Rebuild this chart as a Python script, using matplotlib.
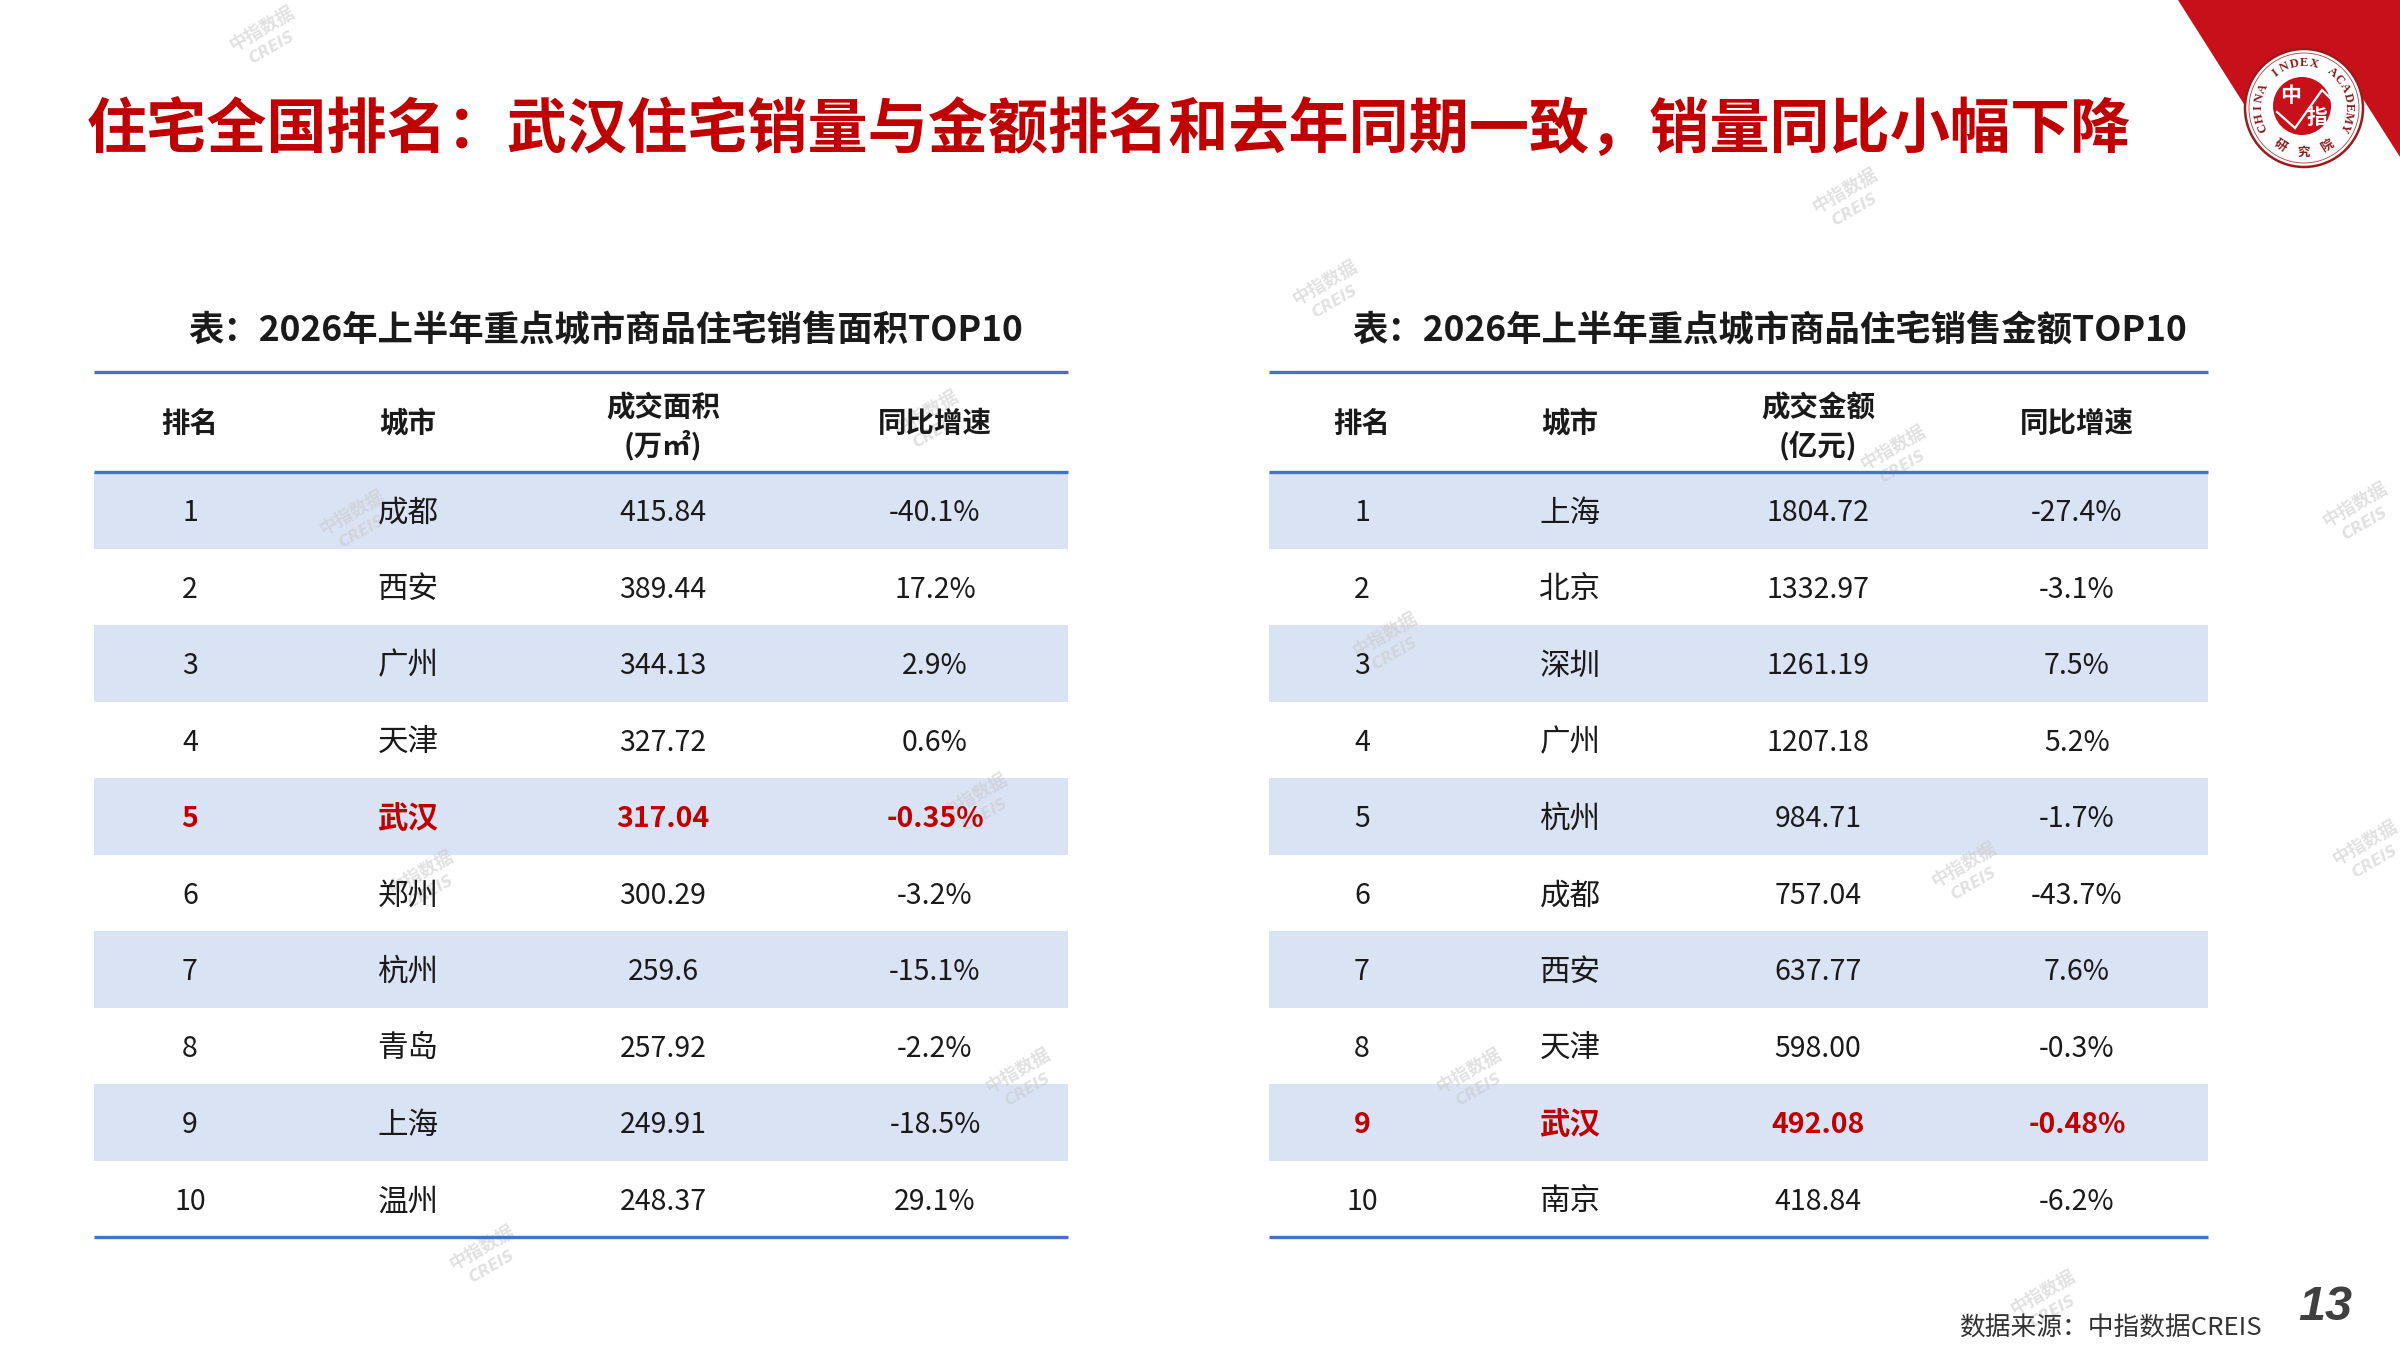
import numpy as np
import matplotlib
matplotlib.use("Agg")
import matplotlib.pyplot as plt
from matplotlib.patches import Rectangle, Circle, Polygon

plt.rcParams['font.family'] = ['Noto Sans CJK SC', 'DejaVu Sans']

# ---------------- data ----------------
title = "住宅全国排名：武汉住宅销量与金额排名和去年同期一致，销量同比小幅下降"

area_title = "表：2026年上半年重点城市商品住宅销售面积TOP10"
area_headers = ["排名", "城市", "成交面积\n(万㎡)", "同比增速"]
area_rank = [1, 2, 3, 4, 5, 6, 7, 8, 9, 10]
area_city = ["成都", "西安", "广州", "天津", "武汉", "郑州", "杭州", "青岛", "上海", "温州"]
area_value = ["415.84", "389.44", "344.13", "327.72", "317.04", "300.29", "259.6", "257.92", "249.91", "248.37"]
area_yoy = ["-40.1%", "17.2%", "2.9%", "0.6%", "-0.35%", "-3.2%", "-15.1%", "-2.2%", "-18.5%", "29.1%"]

amt_title = "表：2026年上半年重点城市商品住宅销售金额TOP10"
amt_headers = ["排名", "城市", "成交金额\n(亿元)", "同比增速"]
amt_rank = [1, 2, 3, 4, 5, 6, 7, 8, 9, 10]
amt_city = ["上海", "北京", "深圳", "广州", "杭州", "成都", "西安", "天津", "武汉", "南京"]
amt_value = ["1804.72", "1332.97", "1261.19", "1207.18", "984.71", "757.04", "637.77", "598.00", "492.08", "418.84"]
amt_yoy = ["-27.4%", "-3.1%", "7.5%", "5.2%", "-1.7%", "-43.7%", "7.6%", "-0.3%", "-0.48%", "-6.2%"]

highlight_city = "武汉"
source = "数据来源：中指数据CREIS"
page_no = "13"

# ---------------- style ----------------
RED = "#C00000"
BLUE = "#4472C4"
SHADE = "#DAE3F3"
TXT = "#1a1a1a"

W, H = 2400, 1350
fig = plt.figure(figsize=(24, 13.5), dpi=100)
ax = fig.add_axes([0, 0, 1, 1])
ax.set_xlim(0, W)
ax.set_ylim(H, 0)
ax.axis("off")

# title
ax.text(87, 130, title, fontsize=43.3, fontweight="heavy", color=RED,
        ha="left", va="center")

# watermarks
wm = [(262, 36), (1845, 198), (1325, 290), (352, 520), (926, 420), (1893, 455),
      (2355, 512), (1385, 642), (975, 803), (421, 880), (1964, 872), (1469, 1078),
      (1018, 1078), (482, 1255), (2043, 1300), (2365, 850)]
for (x, y) in wm:
    ax.text(x, y - 8, "中指数据", fontsize=13, color="#c9c9c9", alpha=0.55,
            rotation=30, ha="center", va="center", fontweight="bold")
    ax.text(x + 10, y + 12, "CREIS", fontsize=11, color="#c9c9c9", alpha=0.55,
            rotation=30, ha="center", va="center", style="italic", fontweight="bold",
            family=["DejaVu Sans"])


def draw_table(x0, x1, col_x, ttl, ttl_x, headers, ranks, cities, values, yoys):
    ax.text(ttl_x, 331, ttl, fontsize=25.5, fontweight="heavy", color=TXT,
            ha="center", va="center")
    top_line, head_bot = 372, 472
    row_h = 76.5
    n = len(ranks)
    for i in range(n):
        y = head_bot + i * row_h
        if i % 2 == 0:
            ax.add_patch(Rectangle((x0, y), x1 - x0, row_h, facecolor=SHADE,
                                   edgecolor="none", zorder=1))
    bottom = head_bot + n * row_h
    for yy in (top_line, head_bot, bottom):
        ax.plot([x0, x1], [yy, yy], color=BLUE, lw=2.4, zorder=3,
                solid_capstyle="butt")
    for cx, h in zip(col_x, headers):
        if "\n" in h:
            l1, l2 = h.split("\n")
            ax.text(cx, 408, l1, fontsize=20.5, fontweight="heavy", color=TXT,
                    ha="center", va="center", zorder=4)
            ax.text(cx, 445, l2, fontsize=20.5, fontweight="heavy", color=TXT,
                    ha="center", va="center", zorder=4)
        else:
            ax.text(cx, 424, h, fontsize=20.5, fontweight="heavy", color=TXT,
                    ha="center", va="center", zorder=4)
    for i in range(n):
        yc = head_bot + i * row_h + row_h / 2 + 3
        hl = cities[i] == highlight_city
        col = RED if hl else TXT
        fw = "bold" if hl else "normal"
        cells = [str(ranks[i]), cities[i], values[i], yoys[i]]
        sizes = [20.5, 22, 20.5, 20.5]
        for cx, c, fs in zip(col_x, cells, sizes):
            ax.text(cx, yc, c, fontsize=fs, color=col, fontweight=fw,
                    ha="center", va="center", zorder=4)


draw_table(94, 1068, [190, 408, 663, 935], area_title, 606, area_headers,
           area_rank, area_city, area_value, area_yoy)
draw_table(1269, 2208, [1362, 1570, 1818, 2077], amt_title, 1770, amt_headers,
           amt_rank, amt_city, amt_value, amt_yoy)

# source + page
ax.text(2262, 1329, source, fontsize=18.5, color="#333333", ha="right", va="center")
ax.text(2352, 1307, page_no, fontsize=35, color="#404040", ha="right", va="center",
        fontweight="bold", style="italic", family=["Liberation Sans", "DejaVu Sans"])

# ---------------- logo ----------------
LOGO_RED = "#C8101A"
ax.add_patch(Polygon([(2178, 0), (2400, 0), (2400, 157), (2351, 80), (2304, 108),
                      (2254, 120)], closed=True, facecolor=LOGO_RED,
                     edgecolor="none", zorder=5))
cx, cy = 2304, 108
ax.add_patch(Circle((cx, cy), 59, facecolor="white", edgecolor="#9b1b1b",
                    lw=1.8, zorder=6))
ax.add_patch(Circle((cx, cy), 55, facecolor="none", edgecolor="#b04040",
                    lw=0.6, zorder=6))
ax.add_patch(Circle((cx - 2, cy - 2), 29, facecolor=LOGO_RED, edgecolor="none",
                    zorder=7))
ax.plot([2277, 2295, 2322, 2332], [112, 128, 90, 100], color="white", lw=1.6,
        zorder=8, solid_joinstyle="miter")
ax.text(2291, 96, "中", fontsize=15, color="white", fontweight="bold",
        ha="center", va="center", zorder=9)
ax.text(2317, 118, "指", fontsize=15, color="white", fontweight="bold",
        ha="center", va="center", zorder=9)
ring = "CHINA INDEX ACADEMY"
angs = np.linspace(205, -25, len(ring))
for ch, a in zip(ring, angs):
    r = 45
    x = cx + r * np.cos(np.radians(a))
    y = cy - r * np.sin(np.radians(a))
    ax.text(x, y, ch, fontsize=9, color="#8b1a1a", fontweight="bold",
            family=["Liberation Serif", "DejaVu Serif"], rotation=a - 90,
            ha="center", va="center", zorder=9)
for ch, a in zip("研究院", [238, 270, 302]):
    r = 44
    x = cx + r * np.cos(np.radians(a))
    y = cy - r * np.sin(np.radians(a))
    ax.text(x, y, ch, fontsize=9, color="#8b1a1a", fontweight="bold",
            rotation=a + 90, ha="center", va="center", zorder=9)

fig.savefig("out.png", dpi=100, facecolor="white")
